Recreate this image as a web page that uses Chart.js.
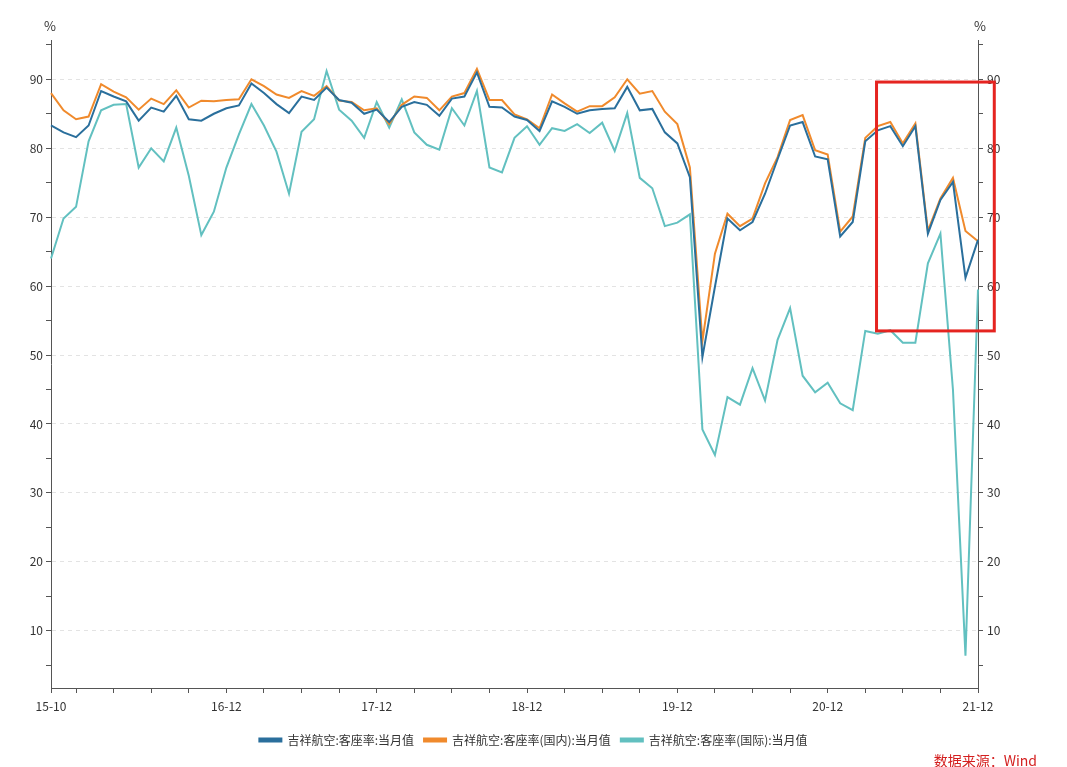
<!DOCTYPE html>
<html><head><meta charset="utf-8">
<script src="https://cdn.jsdelivr.net/npm/chart.js@4"></script>
<style>html,body{margin:0;padding:0;background:#fff;}#w{width:1067px;height:767px;}</style>
</head><body><div id="w"><canvas id="c"></canvas></div>
<script>
const startYear = 2015, startMonth = 10, monthCount = 75;
const categories = [];
for (let i = 0; i < monthCount; i++) { const m = startMonth - 1 + i; categories.push(String((startYear + Math.floor(m / 12)) % 100) + '-' + String(m % 12 + 1).padStart(2, '0')); }
const seriesNames = ['吉祥航空:客座率:当月值', '吉祥航空:客座率(国内):当月值', '吉祥航空:客座率(国际):当月值'];
const totalLF = [83.3,82.3,81.6,83.3,88.3,87.5,86.8,84,85.9,85.3,87.6,84.2,84,85,85.8,86.2,89.4,88,86.4,85.1,87.5,87,88.8,87,86.6,85,85.6,83.8,86,86.7,86.3,84.7,87.2,87.5,91,86,85.9,84.6,84.1,82.5,86.8,86,85,85.5,85.7,85.8,88.9,85.5,85.7,82.3,80.7,75.8,49.7,59.9,69.8,68.1,69.3,73.4,78.4,83.3,83.8,78.8,78.4,67.2,69.3,81,82.6,83.2,80.3,83.2,67.6,72.5,75.1,61.2,66.7];
const domesticLF = [88,85.5,84.2,84.6,89.3,88.2,87.4,85.6,87.2,86.4,88.4,85.9,86.9,86.8,87,87.1,90,89,87.8,87.3,88.3,87.6,89,86.9,86.7,85.5,85.8,83.5,86.3,87.5,87.3,85.5,87.5,88,91.5,87,87,84.9,84.2,82.9,87.8,86.5,85.3,86.1,86.1,87.4,90,87.9,88.3,85.3,83.5,77.2,52,64.7,70.5,68.7,69.8,74.9,78.7,84.1,84.8,79.7,79.1,67.9,70.1,81.5,83.2,83.8,80.7,83.6,68,72.7,75.7,68,66.5];
const intlLF = [64,69.8,71.5,81,85.5,86.3,86.4,77.2,80,78.1,83,76,67.4,70.8,77.2,82,86.4,83.3,79.5,73.4,82.4,84.2,91.2,85.6,84,81.5,86.7,83,87.1,82.3,80.5,79.8,85.8,83.3,88.3,77.2,76.5,81.5,83.2,80.5,82.9,82.5,83.5,82.2,83.7,79.6,85.1,75.7,74.2,68.7,69.2,70.4,39.2,35.5,43.9,42.8,48.1,43.4,52.2,56.8,47,44.6,46,43,42,53.5,53.1,53.6,51.8,51.8,63.3,67.6,45,6.4,59.5];
const yTicks = [10,20,30,40,50,60,70,80,90];
const highlight = {fromIndex: 65.9, toIndex: 75.3, low: 53.5, high: 89.6};
const colors = ['#2a6f9c', '#f08a2c', '#62c0c0'];
const FONT = '"Noto Sans CJK SC", "Noto Sans", sans-serif';

const overlay = {
  id: 'overlay',
  afterDatasetsDraw(chart) {
    const {ctx, scales: {x, y}} = chart;
    const x0 = x.getPixelForValue(highlight.fromIndex), x1 = x.getPixelForValue(highlight.toIndex);
    const y0 = y.getPixelForValue(highlight.high), y1 = y.getPixelForValue(highlight.low);
    ctx.save();
    ctx.strokeStyle = '#e52420'; ctx.lineWidth = 3;
    ctx.strokeRect(x0, y0, x1 - x0, y1 - y0);
    ctx.fillStyle = '#333'; ctx.font = '13px ' + FONT; ctx.textAlign = 'center';
    ctx.fillText('%', chart.chartArea.left - 1, 26);
    ctx.fillText('%', chart.chartArea.right + 2, 26);
    ctx.fillStyle = '#d42020'; ctx.font = '14px ' + FONT; ctx.textAlign = 'right';
    ctx.fillText('数据来源：Wind', 1037, 761);
    ctx.restore();
  }
};
const fiveTicks = (axis) => { const t = []; for (let v = 5; v <= 95; v += 5) t.push({value: v}); axis.ticks = t; };
new Chart(document.getElementById('c'), {
  type: 'line',
  data: { labels: categories, datasets: [totalLF, domesticLF, intlLF].map((d, k) => ({
    label: seriesNames[k], data: d, borderColor: colors[k], backgroundColor: colors[k],
    borderWidth: 2, pointRadius: 0, tension: 0, yAxisID: 'y' })) },
  options: {
    responsive: true, maintainAspectRatio: false, animation: false,
    layout: {padding: {top: 40, bottom: 11, left: 0, right: 0}},
    plugins: {
      legend: { position: 'bottom', labels: { boxWidth: 22, boxHeight: 3, color: '#333', font: {family: FONT, size: 12}, padding: 10 } },
      tooltip: {enabled: false}
    },
    scales: {
      x: {
        grid: { drawOnChartArea: false, drawTicks: true, tickLength: 5,
          tickColor: c => (c.index === 0 || (c.index - 2) % 3 === 0) ? '#555' : 'rgba(0,0,0,0)' },
        border: {color: '#555'},
        ticks: { autoSkip: false, maxRotation: 0, color: '#333', font: {family: FONT, size: 12}, padding: 6,
          callback: (v, i) => (i === 0 || (i > 2 && categories[i].endsWith('-12'))) ? categories[i] : '' },
        afterFit: a => { a.height = 36; }
      },
      y: {
        position: 'left', min: 1.7, max: 95.7,
        afterBuildTicks: fiveTicks,
        grid: { tickLength: 5, color: c => c.tick && c.tick.value % 10 === 0 ? '#e3e3e3' : 'rgba(0,0,0,0)',
          tickColor: '#555' },
        border: {color: '#555', dash: [4, 4]},
        ticks: { color: '#333', font: {family: FONT, size: 12}, padding: 3,
          callback: v => yTicks.includes(v) ? v : '' },
        afterFit: a => { a.width = 51; }
      },
      y2: {
        position: 'right', min: 1.7, max: 95.7,
        afterBuildTicks: fiveTicks,
        grid: { drawOnChartArea: false, tickLength: 5, tickColor: '#555' },
        border: {color: '#555'},
        ticks: { color: '#333', font: {family: FONT, size: 12}, padding: 4,
          callback: v => yTicks.includes(v) ? v : '' },
        afterFit: a => { a.width = 89; }
      }
    }
  },
  plugins: [overlay]
});
</script></body></html>
